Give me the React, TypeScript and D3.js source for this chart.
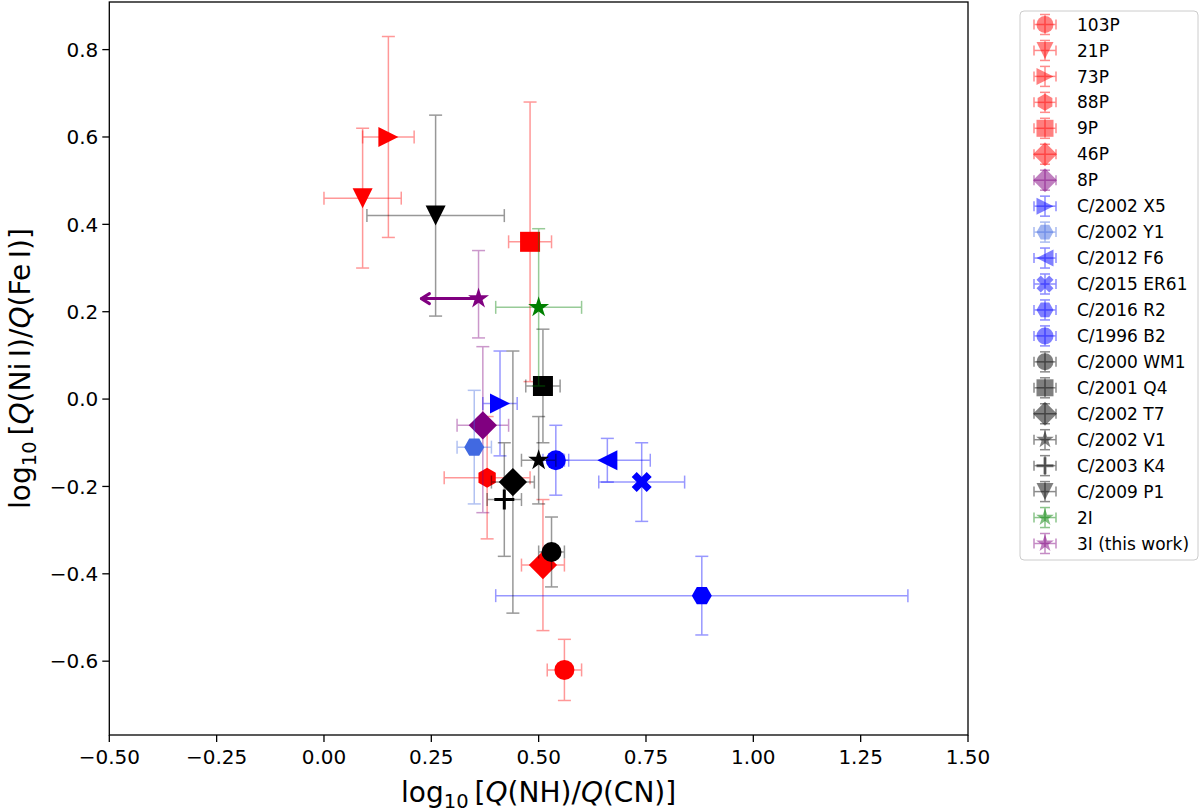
import React from 'react'
import * as d3 from 'd3'

// comet sample, in plotting order (also legend order)
const comets = [
  '103P', '21P', '73P', '88P', '9P', '46P', '8P',
  'C/2002 X5', 'C/2002 Y1', 'C/2012 F6', 'C/2015 ER61', 'C/2016 R2', 'C/1996 B2',
  'C/2000 WM1', 'C/2001 Q4', 'C/2002 T7', 'C/2002 V1', 'C/2003 K4', 'C/2009 P1',
  '2I', '3I (this work)',
]

// log10 Q(NH)/Q(CN)
const nhcn = [0.56, 0.09, 0.15, 0.38, 0.48, 0.51, 0.37, 0.41, 0.35, 0.66, 0.74, 0.88, 0.54, 0.53, 0.51, 0.44, 0.5, 0.42, 0.26, 0.5, 0.36]
const nhcnErr = [0.04, 0.09, 0.06, 0.1, 0.05, 0.05, 0.06, 0.04, 0.04, 0.1, 0.1, 0.48, 0.03, 0.03, 0.04, 0.05, 0.04, 0.04, 0.16, 0.1, 0]
// log10 Q(Ni I)/Q(Fe I)
const nife = [-0.62, 0.46, 0.6, -0.18, 0.36, -0.38, -0.06, -0.01, -0.11, -0.14, -0.19, -0.45, -0.14, -0.35, 0.03, -0.19, -0.14, -0.23, 0.42, 0.21, 0.23]
const nifeErrLo = [0.07, 0.16, 0.23, 0.14, 0.32, 0.15, 0.2, 0.12, 0.13, 0.05, 0.09, 0.09, 0.08, 0.08, 0.13, 0.3, 0.1, 0.13, 0.23, 0.18, 0.09]
const nifeErrHi = [0.07, 0.16, 0.23, 0.14, 0.32, 0.15, 0.18, 0.12, 0.13, 0.05, 0.09, 0.09, 0.08, 0.08, 0.13, 0.3, 0.1, 0.13, 0.23, 0.18, 0.11]
// 3I only has an upper limit on NH/CN
const upperLimitTo = [null, null, null, null, null, null, null, null, null, null, null, null, null, null, null, null, null, null, null, null, 0.227]

const colors = [
  'red', 'red', 'red', 'red', 'red', 'red', 'purple',
  'blue', 'royalblue', 'blue', 'blue', 'blue', 'blue',
  'black', 'black', 'black', 'black', 'black', 'black',
  'green', 'purple',
]
const shapes = ['o', 'v', '>', 'h', 's', 'D', 'D', '>', 'H', '<', 'X', 'H', 'o', 'o', 's', 'D', '*', '+', 'v', '*', '*']

const xTicks = [-0.5, -0.25, 0, 0.25, 0.5, 0.75, 1, 1.25, 1.5]
const yTicks = [-0.6, -0.4, -0.2, 0, 0.2, 0.4, 0.6, 0.8]

const FONT = 'DejaVu Sans, sans-serif'

function poly(pts: [number, number][]) {
  return 'M' + pts.map((p) => p.join(',')).join('L') + 'Z'
}

function markerPath(shape: string, s: number): string {
  const h = s / 2
  switch (shape) {
    case 'o':
      return `M${h},0A${h},${h} 0 1 1 ${-h},0A${h},${h} 0 1 1 ${h},0Z`
    case 'v':
      return poly([[0, h], [-h, -h], [h, -h]])
    case '>':
      return poly([[h, 0], [-h, -h], [-h, h]])
    case '<':
      return poly([[-h, 0], [h, -h], [h, h]])
    case 's':
      return poly([[-h, -h], [h, -h], [h, h], [-h, h]])
    case 'D': {
      const d = s / Math.SQRT2
      return poly([[0, -d], [d, 0], [0, d], [-d, 0]])
    }
    case 'h':
    case 'H': {
      const off = shape === 'h' ? -Math.PI / 2 : 0
      return poly(d3.range(6).map((k) => {
        const a = off + (k * Math.PI) / 3
        return [h * Math.cos(a), h * Math.sin(a)] as [number, number]
      }))
    }
    case 'X': {
      const u: [number, number][] = [[0.25, 0], [0.5, 0.25], [0.25, 0.5], [0, 0.25], [-0.25, 0.5], [-0.5, 0.25], [-0.25, 0], [-0.5, -0.25], [-0.25, -0.5], [0, -0.25], [0.25, -0.5], [0.5, -0.25]]
      return poly(u.map(([a, b]) => [a * s, b * s]))
    }
    case '*': {
      // stars read a bit small at the common size
      const R = h * 1.1
      const r2 = R * 0.381966
      return poly(d3.range(10).map((k) => {
        const a = -Math.PI / 2 + (k * Math.PI) / 5
        const r = k % 2 === 0 ? R : r2
        return [r * Math.cos(a), r * Math.sin(a)] as [number, number]
      }))
    }
    case '+':
      return `M${-h},0H${h}M0,${-h}V${h}`
  }
  return ''
}

function Marker({ shape, color, x, y, size, opacity = 1 }: any) {
  const d = markerPath(shape, size)
  if (shape === '+') {
    return <path d={d} transform={`translate(${x},${y})`} stroke={color} strokeWidth={3} fill="none" opacity={opacity} />
  }
  return <path d={d} transform={`translate(${x},${y})`} fill={color} opacity={opacity} />
}

const App = () => {
  const x = d3.scaleLinear().domain([-0.5, 1.5]).range([109.3, 968])
  const y = d3.scaleLinear().domain([-0.769, 0.909]).range([735, 2])
  const [x0, x1] = x.range()
  const [y0, y1] = y.range()
  const fmtX = (v: number) => d3.format('.2f')(v).replace('-', '\u2212')
  const fmtY = (v: number) => d3.format('.1f')(Math.abs(v) < 1e-9 ? 0 : v).replace('-', '\u2212')
  const cap = 6.5
  const errAlpha = 0.4

  return (
    <svg width={1200} height={812} style={{ position: 'absolute', left: 0, top: 0 }} fontFamily={FONT}>
      <rect width={1200} height={812} fill="white" />

      {comets.map((name, i) => {
        const cx = x(nhcn[i])
        const cy = y(nife[i])
        const c = colors[i]
        const xl = x(nhcn[i] - nhcnErr[i])
        const xr = x(nhcn[i] + nhcnErr[i])
        const yt = y(nife[i] + nifeErrHi[i])
        const yb = y(nife[i] - nifeErrLo[i])
        const lim = upperLimitTo[i]
        return (
          <g key={name}>
            <g stroke={c} strokeWidth={1.5} opacity={errAlpha} fill="none">
              {nhcnErr[i] > 0 && (
                <>
                  <line x1={xl} x2={xr} y1={cy} y2={cy} />
                  <line x1={xl} x2={xl} y1={cy - cap} y2={cy + cap} />
                  <line x1={xr} x2={xr} y1={cy - cap} y2={cy + cap} />
                </>
              )}
              <line x1={cx} x2={cx} y1={yt} y2={yb} />
              <line x1={cx - cap} x2={cx + cap} y1={yt} y2={yt} />
              <line x1={cx - cap} x2={cx + cap} y1={yb} y2={yb} />
            </g>
            {lim !== null && (
              <g stroke={c} strokeWidth={3} fill="none" strokeLinecap="round" strokeLinejoin="round">
                <line x1={cx} x2={x(lim)} y1={cy} y2={cy} />
                <path d={`M${x(lim) + 8},${cy - 5}L${x(lim)},${cy}L${x(lim) + 8},${cy + 5}`} />
              </g>
            )}
            <Marker shape={shapes[i]} color={c} x={cx} y={cy} size={20} />
          </g>
        )
      })}

      {/* frame */}
      <rect x={x0} y={y1} width={x1 - x0} height={y0 - y1} fill="none" stroke="black" strokeWidth={1.3} />

      {/* x axis */}
      {xTicks.map((t) => (
        <g key={`xt${t}`} transform={`translate(${x(t)},${y0})`}>
          <line y2={7} stroke="black" strokeWidth={1.3} />
          <text y={29} fontSize={20} textAnchor="middle">{fmtX(t)}</text>
        </g>
      ))}
      {/* y axis */}
      {yTicks.map((t) => (
        <g key={`yt${t}`} transform={`translate(${x0},${y(t)})`}>
          <line x2={-7} stroke="black" strokeWidth={1.3} />
          <text x={-11} dy="0.36em" fontSize={20} textAnchor="end">{fmtY(t)}</text>
        </g>
      ))}

      <text x={(x0 + x1) / 2} y={802} fontSize={28} textAnchor="middle">
        log<tspan fontSize={19.5} dy={6}>10</tspan>
        <tspan dy={-6} dx={6}>[</tspan>
        <tspan fontStyle="italic">Q</tspan>(NH)/<tspan fontStyle="italic">Q</tspan>(CN)]
      </text>
      <text transform={`translate(30,${(y0 + y1) / 2}) rotate(-90)`} fontSize={28} textAnchor="middle">
        log<tspan fontSize={19.5} dy={6}>10</tspan>
        <tspan dy={-6} dx={6}>[</tspan>
        <tspan fontStyle="italic">Q</tspan>(Ni{'\u2009'}I)/<tspan fontStyle="italic">Q</tspan>(Fe{'\u2009'}I)]
      </text>

      {/* legend */}
      <rect x={1020} y={11} width={178} height={549} rx={4} fill="white" fillOpacity={0.8} stroke="#cccccc" strokeWidth={1} />
      {comets.map((name, i) => {
        const ly = 24.5 + i * 25.95
        const mx = 1045
        const c = colors[i]
        return (
          <g key={`lg${name}`}>
            <Marker shape={shapes[i]} color={c} x={mx} y={ly} size={17} opacity={0.5} />
            <g stroke={c} strokeWidth={1.5} opacity={0.45}>
              <line x1={mx - 11} x2={mx + 11} y1={ly} y2={ly} />
              <line x1={mx - 11} x2={mx - 11} y1={ly - 5} y2={ly + 5} />
              <line x1={mx + 11} x2={mx + 11} y1={ly - 5} y2={ly + 5} />
              <line x1={mx} x2={mx} y1={ly - 10} y2={ly + 10} />
              <line x1={mx - 5} x2={mx + 5} y1={ly - 10} y2={ly - 10} />
              <line x1={mx - 5} x2={mx + 5} y1={ly + 10} y2={ly + 10} />
            </g>
            <text x={1077} y={ly} dy="0.36em" fontSize={17}>{name}</text>
          </g>
        )
      })}
    </svg>
  )
}

export default App
